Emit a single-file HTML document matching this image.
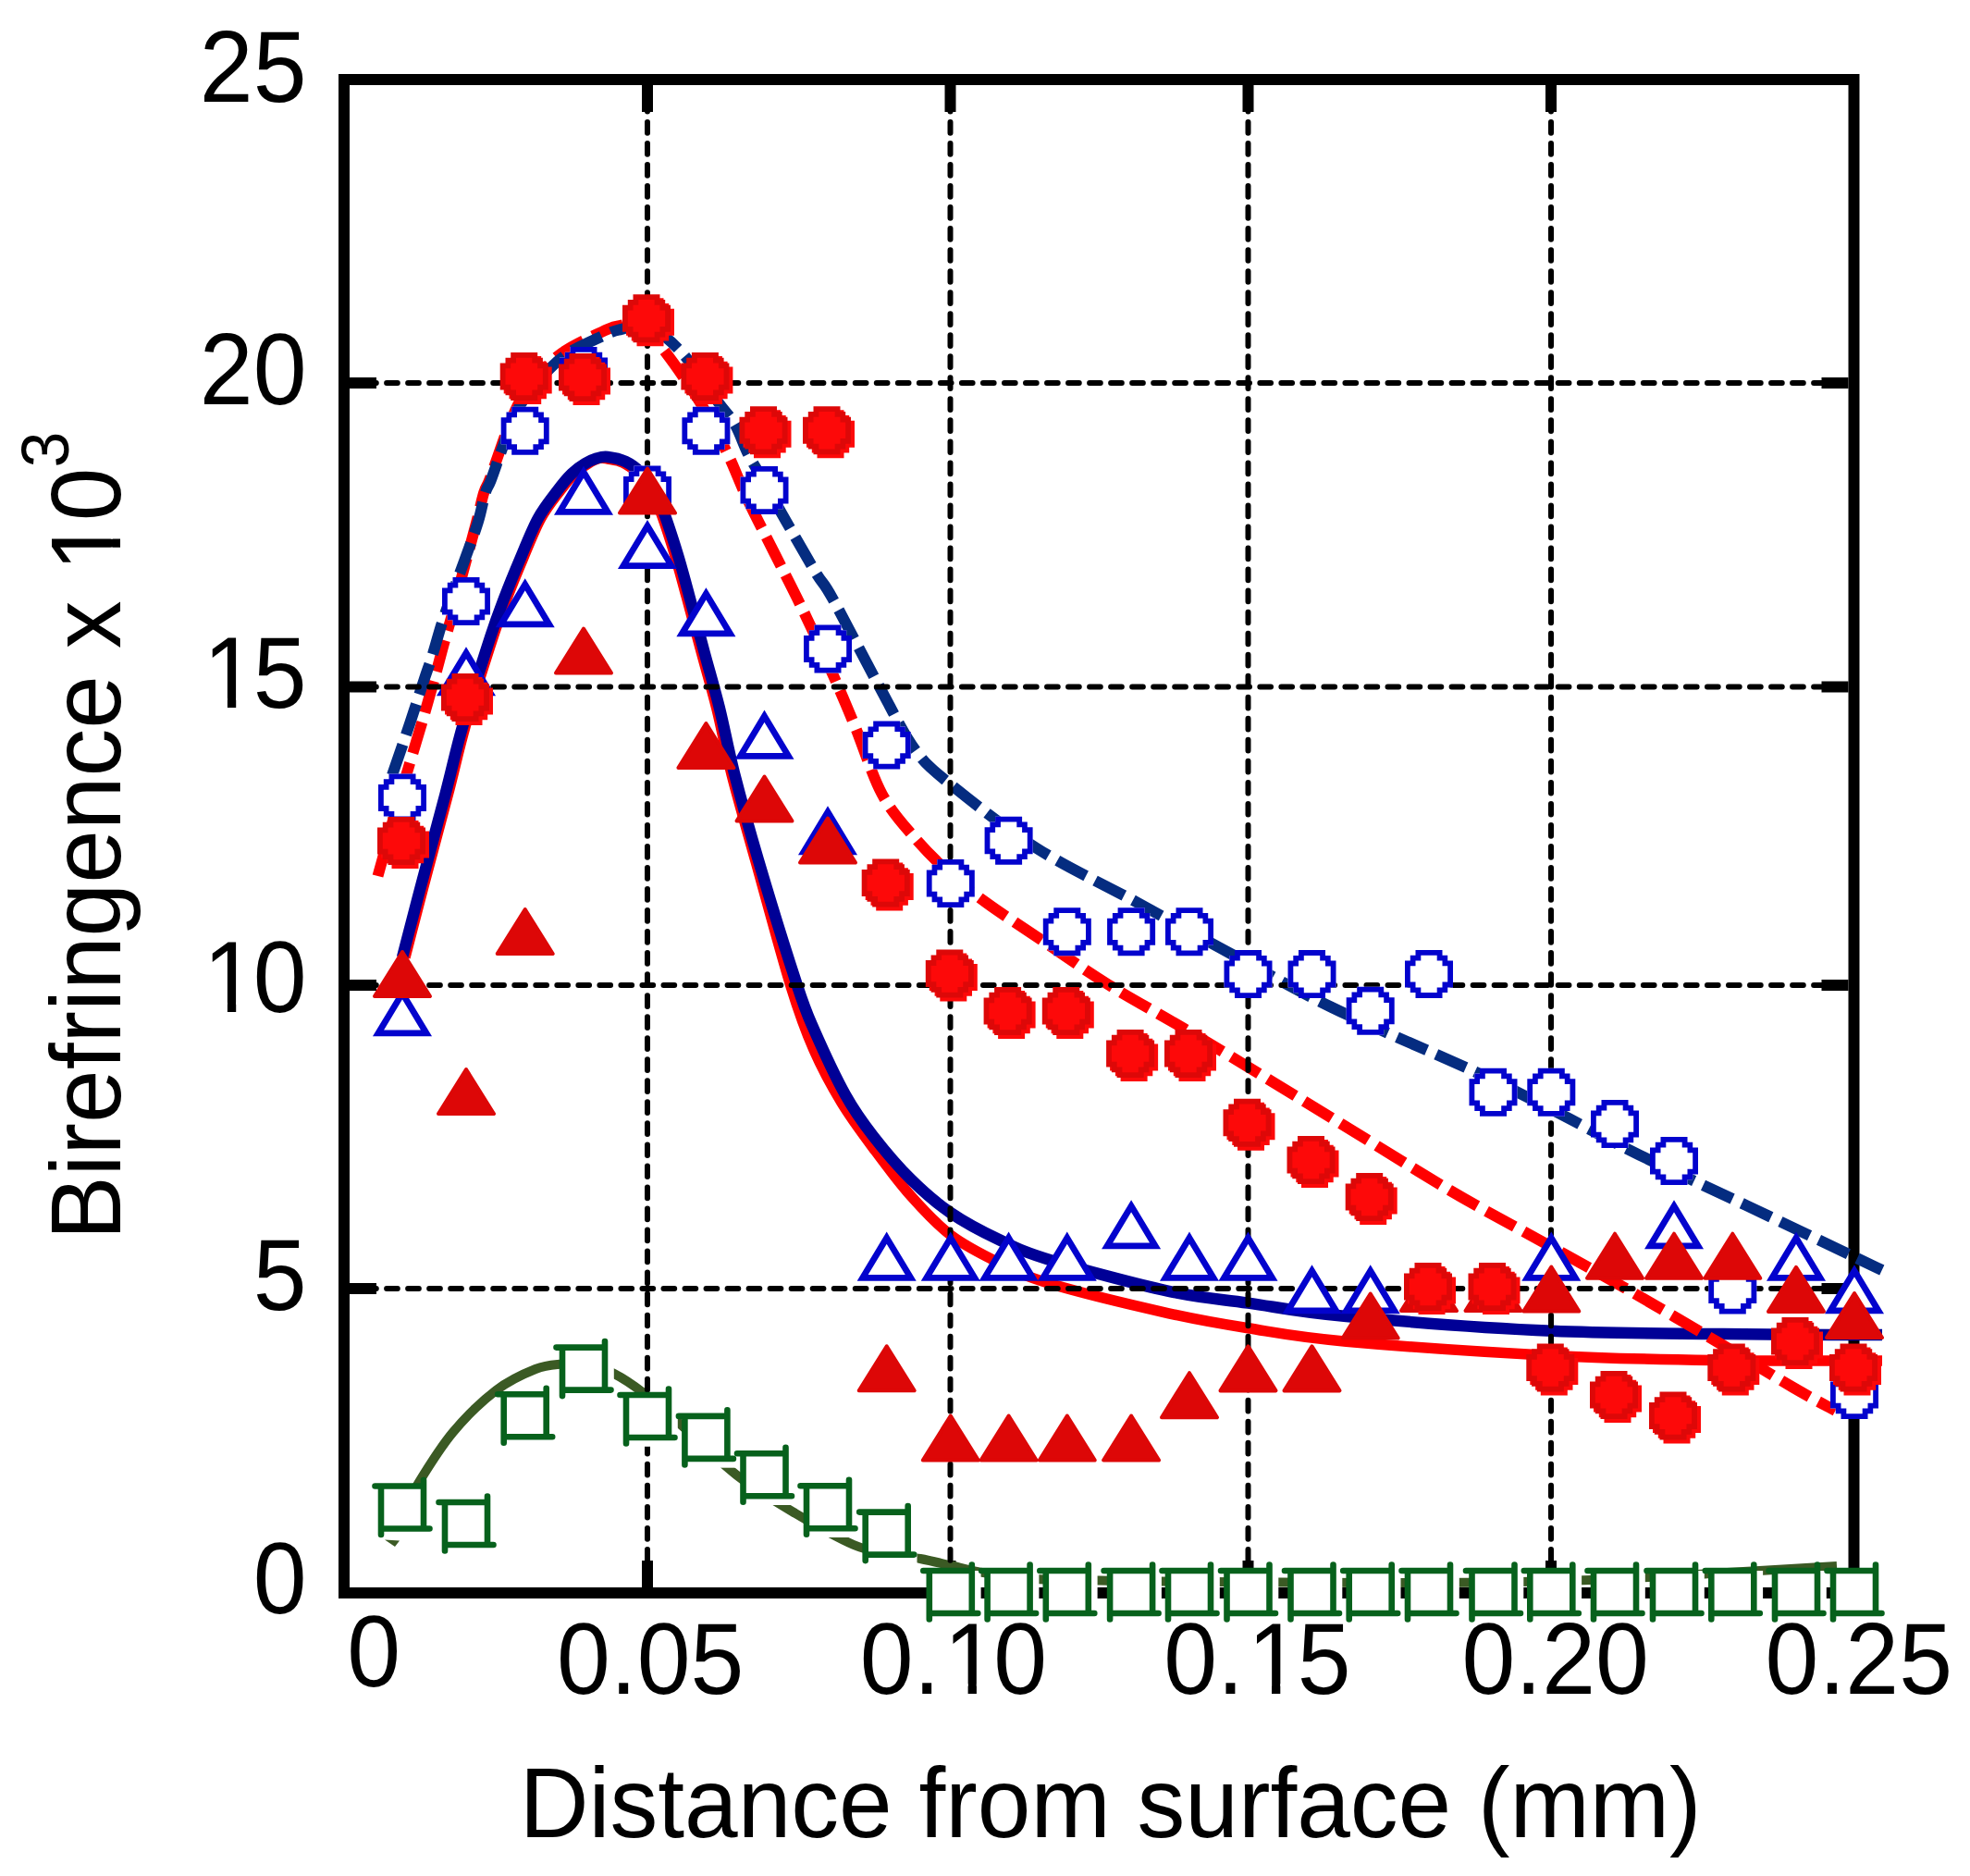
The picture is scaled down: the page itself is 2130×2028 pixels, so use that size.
<!DOCTYPE html>
<html lang="en"><head><meta charset="utf-8"><title>Birefringence vs distance from surface</title>
<style>html,body{margin:0;padding:0;background:#fff}svg{display:block}text{font-family:"Liberation Sans",sans-serif;fill:#000}</style></head><body>
<svg width="2130" height="2028" viewBox="0 0 2130 2028">
<rect width="2130" height="2028" fill="#fff"/>
<defs>
<g id="rc"><path d="M-12.5 -24.0L16.5 -24.0L16.5 -18.2L22.2 -18.2L22.2 -12.5L28.0 -12.5L28.0 16.5L22.2 16.5L22.2 22.2L16.5 22.2L16.5 28.0L-12.5 28.0L-12.5 22.2L-18.2 22.2L-18.2 16.5L-24.0 16.5L-24.0 -12.5L-18.2 -12.5L-18.2 -18.2L-12.5 -18.2Z" fill="#fd0909"/><path d="M-16.5 -28.0L12.5 -28.0L12.5 -22.2L18.2 -22.2L18.2 -16.5L24.0 -16.5L24.0 12.5L18.2 12.5L18.2 18.2L12.5 18.2L12.5 24.0L-16.5 24.0L-16.5 18.2L-22.2 18.2L-22.2 12.5L-28.0 12.5L-28.0 -16.5L-22.2 -16.5L-22.2 -22.2L-16.5 -22.2Z" fill="#dd0808"/><path d="M-10.7 -22.2L6.7 -22.2L6.7 -16.5L12.5 -16.5L12.5 -10.7L18.2 -10.7L18.2 6.7L12.5 6.7L12.5 12.5L6.7 12.5L6.7 18.2L-10.7 18.2L-10.7 12.5L-16.5 12.5L-16.5 6.7L-22.2 6.7L-22.2 -10.7L-16.5 -10.7L-16.5 -16.5L-10.7 -16.5Z" fill="#fd0909"/></g>
<path id="bc" d="M-14.5 -26.0L14.5 -26.0L14.5 -20.2L20.2 -20.2L20.2 -14.5L26.0 -14.5L26.0 14.5L20.2 14.5L20.2 20.2L14.5 20.2L14.5 26.0L-14.5 26.0L-14.5 20.2L-20.2 20.2L-20.2 14.5L-26.0 14.5L-26.0 -14.5L-20.2 -14.5L-20.2 -20.2L-14.5 -20.2ZM-8.7 -20.2L8.7 -20.2L8.7 -14.5L14.5 -14.5L14.5 -8.7L20.2 -8.7L20.2 8.7L14.5 8.7L14.5 14.5L8.7 14.5L8.7 20.2L-8.7 20.2L-8.7 14.5L-14.5 14.5L-14.5 8.7L-20.2 8.7L-20.2 -8.7L-14.5 -8.7L-14.5 -14.5L-8.7 -14.5Z" fill="#0303cd" fill-rule="evenodd"/>
<path id="bcw" d="M-14.5 -26.0L14.5 -26.0L14.5 -20.2L20.2 -20.2L20.2 -14.5L26.0 -14.5L26.0 14.5L20.2 14.5L20.2 20.2L14.5 20.2L14.5 26.0L-14.5 26.0L-14.5 20.2L-20.2 20.2L-20.2 14.5L-26.0 14.5L-26.0 -14.5L-20.2 -14.5L-20.2 -20.2L-14.5 -20.2Z" fill="#fff"/>
<path id="bt" d="M0 5.8L26 48.9L-26 48.9Z" fill="#fff" stroke="#0303cd" stroke-width="6.8" stroke-linejoin="miter"/>
<path id="rt" d="M0 2L30 50L-30 50Z" fill="#dd0707" stroke="#dd0707" stroke-width="4" stroke-linejoin="round"/>
<g id="gs"><rect x="-23" y="-23" width="55.8" height="55.8" fill="#fff"/><path d="M-29.5 -23H23M-23 23H29.5M-23 -23V29.5M23 -29.5V23" fill="none" stroke="#07611c" stroke-width="6.6" stroke-linecap="round"/></g>
</defs>
<g fill="none" stroke="#000">
<rect x="372.0" y="86.0" width="1632.5" height="1636.0" stroke-width="12.0"/>
<path d="M700.0 92.0 v29.0 M700.0 1716.0 v-29.0M1027.5 92.0 v29.0 M1027.5 1716.0 v-29.0M1349.5 92.0 v29.0 M1349.5 1716.0 v-29.0M1677.0 92.0 v29.0 M1677.0 1716.0 v-29.0M378.0 414.0 h29.0 M1998.5 414.0 h-29.0M378.0 742.4 h29.0 M1998.5 742.4 h-29.0M378.0 1065.1 h29.0 M1998.5 1065.1 h-29.0M378.0 1393.0 h29.0 M1998.5 1393.0 h-29.0" stroke-width="12"/>
</g>
<g fill="none">
<path d="M436.0 1636.0C438.8 1630.4 443.8 1617.3 452.8 1602.6C461.8 1587.9 476.1 1564.6 490.0 1548.0C503.9 1531.4 521.6 1514.3 536.4 1503.0C551.2 1491.7 567.2 1484.7 579.0 1480.0C590.8 1475.3 598.1 1475.5 607.4 1474.6C616.7 1473.7 625.6 1472.8 635.0 1474.5C644.4 1476.2 653.8 1479.8 664.0 1485.0C674.2 1490.2 684.0 1496.8 696.0 1506.0C708.0 1515.2 719.2 1525.2 736.0 1540.0C752.8 1554.8 776.3 1579.0 797.0 1595.0C817.7 1611.0 839.0 1623.5 860.0 1636.0C881.0 1648.5 906.3 1662.8 923.0 1670.0C939.7 1677.2 948.0 1676.5 960.0 1679.0C972.0 1681.5 983.8 1682.8 995.0 1685.0C1006.2 1687.2 1016.2 1689.6 1027.0 1692.0C1037.8 1694.4 1044.5 1697.1 1060.0 1699.6C1075.5 1702.1 1098.7 1705.5 1120.0 1707.0C1141.3 1708.5 1165.5 1708.2 1188.0 1708.6C1210.5 1709.0 1222.3 1709.2 1255.0 1709.5C1287.7 1709.8 1329.0 1710.4 1384.0 1710.6C1439.0 1710.8 1529.0 1711.2 1585.0 1710.8C1641.0 1710.4 1675.8 1709.6 1720.0 1708.0C1764.2 1706.4 1805.7 1703.5 1850.0 1701.0C1894.3 1698.5 1963.3 1694.3 1986.0 1693.0" stroke="#3b5a24" stroke-width="10"/>
<path d="M416 1664.5L432 1665.5L427 1672Z" fill="#3b5a24"/>
<path d="M438.0 1035.0C441.2 1022.5 449.8 989.4 457.5 960.0C465.2 930.6 476.8 887.9 484.5 858.6C492.2 829.3 495.4 812.4 503.5 784.0C511.6 755.6 525.9 711.1 533.4 688.0C540.9 664.9 543.3 659.5 548.7 645.3C554.1 631.1 560.0 616.9 566.0 602.7C572.0 588.5 578.3 572.1 585.0 560.0C591.7 547.9 600.0 538.0 606.0 530.0C612.0 522.0 616.3 516.8 621.3 512.0C626.2 507.2 631.2 503.9 635.7 501.2C640.2 498.4 644.4 496.4 648.0 495.5C651.6 494.6 652.9 495.2 657.1 496.0C661.3 496.8 667.9 497.3 673.4 500.0C678.9 502.7 685.2 507.3 690.0 512.0C694.8 516.7 698.2 521.9 702.0 528.0C705.8 534.1 707.9 536.9 712.5 548.8C717.1 560.7 724.6 583.6 729.5 599.5C734.4 615.4 737.2 626.9 742.0 644.3C746.8 661.7 752.5 683.6 758.0 704.0C763.5 724.4 769.5 744.5 775.0 766.7C780.5 788.9 784.0 809.6 791.0 837.0C798.0 864.4 806.3 892.8 817.0 931.0C827.7 969.2 844.5 1032.0 855.0 1066.0C865.5 1100.0 870.8 1114.0 880.0 1135.0C889.2 1156.0 899.3 1174.4 910.0 1192.0C920.7 1209.6 931.5 1223.9 944.0 1240.7C956.5 1257.5 971.0 1277.3 985.0 1293.0C999.0 1308.7 1011.9 1323.0 1027.7 1335.0C1043.5 1347.0 1062.0 1356.2 1080.0 1365.0C1098.0 1373.8 1105.2 1378.7 1135.8 1387.8C1166.4 1396.9 1228.1 1411.8 1263.7 1419.8C1299.3 1427.8 1317.5 1430.7 1349.5 1435.8C1381.5 1440.9 1400.8 1445.3 1455.6 1450.2C1510.3 1455.1 1611.8 1462.0 1678.0 1465.4C1744.2 1468.8 1793.5 1469.6 1853.0 1470.5C1912.5 1471.4 2004.7 1470.9 2035.0 1471.0" stroke="#ff0000" stroke-width="11.5"/>
<path d="M435.0 1035.0C438.2 1022.5 446.8 989.4 454.5 960.0C462.2 930.6 473.8 887.9 481.5 858.6C489.2 829.3 492.4 812.4 500.5 784.0C508.6 755.6 522.9 711.1 530.4 688.0C537.9 664.9 540.3 659.5 545.7 645.3C551.1 631.1 557.0 616.9 563.0 602.7C569.0 588.5 575.3 572.1 582.0 560.0C588.7 547.9 597.0 538.0 603.0 530.0C609.0 522.0 613.3 516.8 618.3 512.0C623.2 507.2 628.2 503.9 632.7 501.2C637.2 498.4 640.9 496.7 645.0 495.5C649.1 494.3 651.9 493.4 657.1 494.0C662.3 494.6 670.4 496.2 676.4 499.0C682.4 501.8 688.2 506.3 693.0 511.0C697.8 515.7 701.2 520.9 705.0 527.0C708.8 533.1 710.9 535.9 715.5 547.8C720.1 559.7 727.6 582.6 732.5 598.5C737.4 614.4 740.2 625.9 745.0 643.3C749.8 660.7 755.5 682.6 761.0 703.0C766.5 723.4 772.5 743.5 778.0 765.7C783.5 787.9 787.0 808.6 794.0 836.0C801.0 863.4 808.8 892.0 820.0 930.0C831.2 968.0 851.5 1033.5 861.5 1064.0C871.5 1094.5 871.3 1093.0 880.0 1112.8C888.7 1132.6 903.0 1163.8 913.7 1183.0C924.4 1202.2 932.1 1212.7 944.0 1228.0C955.9 1243.3 971.0 1261.2 985.0 1275.0C999.0 1288.8 1011.9 1300.2 1027.7 1311.0C1043.5 1321.8 1062.0 1331.5 1080.0 1340.0C1098.0 1348.5 1105.2 1352.9 1135.8 1362.2C1166.4 1371.5 1228.1 1388.1 1263.7 1395.8C1299.3 1403.5 1317.5 1404.1 1349.5 1408.6C1381.5 1413.1 1400.8 1418.0 1455.6 1423.0C1510.3 1428.0 1601.9 1435.5 1678.0 1438.7C1754.1 1442.0 1852.5 1441.8 1912.0 1442.5C1971.5 1443.2 2014.5 1442.9 2035.0 1443.0" stroke="#000096" stroke-width="12.5"/>
<path d="M408.5 947.0C409.3 944.0 410.9 938.5 413.5 929.0C416.1 919.5 419.1 907.2 424.0 890.0C428.9 872.8 437.5 843.7 442.9 825.6C448.3 807.5 451.3 797.9 456.2 781.2C461.1 764.5 468.0 740.0 472.0 725.5C476.0 711.0 477.1 705.8 480.3 694.4C483.5 683.0 487.7 669.3 491.0 657.0C494.3 644.7 497.8 629.3 500.0 620.8C502.2 612.3 501.4 615.5 504.0 606.0C506.6 596.5 512.1 576.2 515.3 564.0C518.5 551.8 520.9 539.9 523.2 532.5C525.5 525.1 526.1 527.1 529.0 519.5C531.9 511.9 536.8 497.4 540.5 487.0C544.2 476.6 547.2 467.0 551.5 457.0C555.8 447.0 559.0 437.5 566.0 427.0C573.0 416.5 586.1 401.9 593.5 394.0C600.9 386.1 605.2 383.5 610.5 379.7C615.8 375.9 617.7 375.0 625.5 371.0C633.3 367.0 649.9 358.9 657.5 355.7C665.1 352.5 666.2 352.9 671.0 352.0C675.8 351.1 680.7 349.2 686.0 350.5C691.3 351.8 697.5 355.1 703.0 360.0C708.5 364.9 713.5 372.7 719.1 380.1C724.7 387.5 729.8 394.3 736.6 404.3C743.4 414.3 751.6 425.6 760.0 440.0C768.4 454.4 778.9 474.5 786.9 491.0C794.9 507.5 799.3 520.9 807.8 538.8C816.2 556.7 827.6 578.6 837.6 598.5C847.6 618.4 857.1 636.6 867.5 658.2C877.9 679.8 890.6 707.0 900.0 728.0C909.4 749.0 914.9 762.1 923.9 783.9C932.9 805.6 942.8 838.1 953.7 858.5C964.7 878.9 977.2 891.9 989.6 906.3C1002.0 920.7 1014.9 933.3 1027.8 945.0C1040.7 956.7 1050.7 964.4 1067.2 976.4C1083.7 988.4 1105.0 1002.0 1126.9 1016.7C1148.8 1031.4 1170.7 1047.3 1198.5 1064.5C1226.3 1081.7 1253.8 1096.0 1294.0 1120.0C1334.2 1144.0 1394.3 1180.8 1440.0 1208.6C1485.7 1236.4 1528.5 1263.8 1568.0 1287.0C1607.5 1310.2 1645.3 1329.9 1677.3 1347.7C1709.3 1365.5 1730.1 1377.0 1759.8 1394.0C1789.5 1411.0 1825.8 1432.3 1855.7 1450.0C1885.6 1467.7 1917.5 1487.5 1939.0 1500.0C1960.5 1512.5 1976.9 1520.8 1984.5 1525.0" stroke="#ff0000" stroke-width="12" stroke-dasharray="35 11"/>
<path d="M424.0 838.0C427.2 828.5 437.8 798.2 443.5 781.0C449.2 763.8 454.4 747.3 458.5 735.0C462.6 722.7 464.4 718.3 468.0 707.0C471.6 695.7 474.3 683.8 480.0 667.0C485.7 650.2 495.9 623.6 502.0 606.5C508.1 589.4 513.0 576.8 516.8 564.5C520.6 552.2 522.4 540.3 524.7 532.9C527.0 525.5 527.6 527.4 530.5 519.9C533.4 512.4 538.2 497.9 542.0 487.6C545.8 477.3 548.7 467.8 553.0 458.0C557.3 448.2 561.0 439.1 568.0 429.0C575.0 418.9 587.9 405.2 595.3 397.6C602.7 390.0 607.2 387.0 612.5 383.2C617.8 379.4 619.3 378.6 627.2 374.6C635.1 370.7 652.5 362.6 660.0 359.5C667.5 356.4 667.5 357.1 672.2 355.9C676.9 354.7 682.5 352.4 688.0 352.5C693.5 352.6 699.6 354.4 705.0 356.5C710.4 358.6 714.2 360.0 720.2 364.9C726.2 369.8 735.2 378.6 741.3 385.8C747.4 393.0 751.0 399.7 757.0 408.0C763.0 416.3 770.7 426.9 777.0 435.5C783.3 444.1 789.7 450.2 795.0 459.5C800.3 468.8 803.7 480.6 809.0 491.0C814.3 501.4 821.2 511.7 827.0 522.0C832.8 532.3 838.5 543.2 844.0 553.0C849.5 562.8 853.4 569.6 860.0 581.0C866.6 592.4 876.8 610.5 883.5 621.4C890.2 632.3 888.8 626.5 900.0 646.6C911.2 666.7 935.8 714.8 950.7 742.1C965.6 769.5 976.8 793.1 989.6 810.7C1002.5 828.4 1005.9 830.3 1027.8 848.0C1049.7 865.7 1087.5 895.8 1120.9 917.0C1154.3 938.2 1195.6 957.2 1228.4 975.0C1261.2 992.8 1282.6 1005.0 1317.9 1024.0C1353.2 1043.0 1394.1 1066.7 1440.0 1089.0C1485.9 1111.3 1554.0 1139.7 1593.5 1158.0C1633.0 1176.3 1647.2 1183.9 1677.0 1199.0C1706.8 1214.1 1737.5 1231.3 1772.6 1248.6C1807.7 1265.9 1844.0 1282.2 1887.7 1302.9C1931.4 1323.6 2010.3 1361.3 2034.8 1373.0" stroke="#052c80" stroke-width="12" stroke-dasharray="35 11"/>
</g>
<path d="M700.00 108.92 V1689.0M1027.50 108.92 V1689.0M1349.50 108.92 V1689.0M1677.00 108.92 V1689.0M395.07 414.00 H1971.5M395.07 742.40 H1971.5M395.07 1065.10 H1971.5M395.07 1393.00 H1971.5" fill="none" stroke="#000" stroke-width="6" stroke-linecap="round" stroke-dasharray="11.7 11.33"/>
<g>
<use href="#bcw" x="435.0" y="862.4"/><use href="#bc" x="435.0" y="862.4"/>
<use href="#bcw" x="504.0" y="650.0"/><use href="#bc" x="504.0" y="650.0"/>
<use href="#bcw" x="567.7" y="465.7"/><use href="#bc" x="567.7" y="465.7"/>
<use href="#bcw" x="631.0" y="401.0"/><use href="#bc" x="631.0" y="401.0"/>
<use href="#bcw" x="700.0" y="529.6"/><use href="#bc" x="700.0" y="529.6"/>
<use href="#bcw" x="763.4" y="465.7"/><use href="#bc" x="763.4" y="465.7"/>
<use href="#bcw" x="826.5" y="530.0"/><use href="#bc" x="826.5" y="530.0"/>
<use href="#bcw" x="895.0" y="701.5"/><use href="#bc" x="895.0" y="701.5"/>
<use href="#bcw" x="958.7" y="805.6"/><use href="#bc" x="958.7" y="805.6"/>
<use href="#bcw" x="1027.8" y="955.0"/><use href="#bc" x="1027.8" y="955.0"/>
<use href="#bcw" x="1090.6" y="908.7"/><use href="#bc" x="1090.6" y="908.7"/>
<use href="#bcw" x="1153.8" y="1007.2"/><use href="#bc" x="1153.8" y="1007.2"/>
<use href="#bcw" x="1223.1" y="1007.2"/><use href="#bc" x="1223.1" y="1007.2"/>
<use href="#bcw" x="1286.0" y="1007.2"/><use href="#bc" x="1286.0" y="1007.2"/>
<use href="#bcw" x="1349.5" y="1053.1"/><use href="#bc" x="1349.5" y="1053.1"/>
<use href="#bcw" x="1418.5" y="1053.1"/><use href="#bc" x="1418.5" y="1053.1"/>
<use href="#bcw" x="1481.7" y="1092.8"/><use href="#bc" x="1481.7" y="1092.8"/>
<use href="#bcw" x="1545.0" y="1052.9"/><use href="#bc" x="1545.0" y="1052.9"/>
<use href="#bcw" x="1614.5" y="1180.8"/><use href="#bc" x="1614.5" y="1180.8"/>
<use href="#bcw" x="1677.3" y="1180.8"/><use href="#bc" x="1677.3" y="1180.8"/>
<use href="#bcw" x="1746.0" y="1215.0"/><use href="#bc" x="1746.0" y="1215.0"/>
<use href="#bcw" x="1810.0" y="1255.0"/><use href="#bc" x="1810.0" y="1255.0"/>
<use href="#bcw" x="1873.3" y="1394.5"/><use href="#bc" x="1873.3" y="1394.5"/>
<use href="#bcw" x="2005.0" y="1508.0"/><use href="#bc" x="2005.0" y="1508.0"/>
<use href="#bt" x="435.0" y="1068.0"/>
<use href="#bt" x="504.0" y="700.0"/>
<use href="#bt" x="567.7" y="626.0"/>
<use href="#bt" x="631.0" y="504.5"/>
<use href="#bt" x="700.0" y="562.7"/>
<use href="#bt" x="763.4" y="636.0"/>
<use href="#bt" x="826.5" y="768.4"/>
<use href="#bt" x="895.0" y="872.0"/>
<use href="#bt" x="958.7" y="1332.4"/>
<use href="#bt" x="1027.8" y="1332.4"/>
<use href="#bt" x="1090.6" y="1332.4"/>
<use href="#bt" x="1153.8" y="1332.4"/>
<use href="#bt" x="1223.1" y="1298.0"/>
<use href="#bt" x="1286.0" y="1332.4"/>
<use href="#bt" x="1349.5" y="1332.4"/>
<use href="#bt" x="1418.5" y="1368.0"/>
<use href="#bt" x="1481.7" y="1368.0"/>
<use href="#bt" x="1677.3" y="1332.4"/>
<use href="#bt" x="1810.0" y="1298.0"/>
<use href="#bt" x="1942.0" y="1332.4"/>
<use href="#bt" x="2005.0" y="1368.0"/>
<use href="#rt" x="435.0" y="1027.0"/>
<use href="#rt" x="504.0" y="1154.0"/>
<use href="#rt" x="567.7" y="981.0"/>
<use href="#rt" x="631.0" y="677.6"/>
<use href="#rt" x="700.0" y="504.5"/>
<use href="#rt" x="763.4" y="780.0"/>
<use href="#rt" x="826.5" y="837.5"/>
<use href="#rt" x="895.0" y="882.6"/>
<use href="#rt" x="958.7" y="1453.3"/>
<use href="#rt" x="1027.8" y="1528.5"/>
<use href="#rt" x="1090.6" y="1528.5"/>
<use href="#rt" x="1153.8" y="1528.5"/>
<use href="#rt" x="1223.1" y="1528.5"/>
<use href="#rt" x="1286.0" y="1482.2"/>
<use href="#rt" x="1349.5" y="1453.4"/>
<use href="#rt" x="1418.5" y="1453.4"/>
<use href="#rt" x="1481.7" y="1396.5"/>
<use href="#rt" x="1545.0" y="1367.0"/>
<use href="#rt" x="1614.5" y="1367.0"/>
<use href="#rt" x="1677.3" y="1367.5"/>
<use href="#rt" x="1746.0" y="1331.7"/>
<use href="#rt" x="1810.0" y="1331.7"/>
<use href="#rt" x="1873.3" y="1331.7"/>
<use href="#rt" x="1942.0" y="1367.9"/>
<use href="#rt" x="2005.0" y="1396.0"/>
<use href="#rc" x="436.0" y="911.0"/>
<use href="#rc" x="505.0" y="756.0"/>
<use href="#rc" x="568.7" y="409.0"/>
<use href="#rc" x="632.0" y="410.0"/>
<use href="#rc" x="701.0" y="346.3"/>
<use href="#rc" x="764.4" y="409.0"/>
<use href="#rc" x="827.5" y="467.2"/>
<use href="#rc" x="896.0" y="467.2"/>
<use href="#rc" x="959.7" y="956.5"/>
<use href="#rc" x="1028.8" y="1054.6"/>
<use href="#rc" x="1091.6" y="1095.0"/>
<use href="#rc" x="1154.8" y="1095.0"/>
<use href="#rc" x="1224.1" y="1141.0"/>
<use href="#rc" x="1287.0" y="1141.0"/>
<use href="#rc" x="1350.5" y="1215.8"/>
<use href="#rc" x="1419.5" y="1256.0"/>
<use href="#rc" x="1482.7" y="1296.0"/>
<use href="#rc" x="1546.0" y="1393.0"/>
<use href="#rc" x="1615.5" y="1393.0"/>
<use href="#rc" x="1678.3" y="1480.5"/>
<use href="#rc" x="1747.0" y="1510.0"/>
<use href="#rc" x="1811.0" y="1532.5"/>
<use href="#rc" x="1874.3" y="1480.5"/>
<use href="#rc" x="1943.0" y="1452.0"/>
<use href="#rc" x="2006.0" y="1480.5"/>
<use href="#gs" x="435.0" y="1629.5"/>
<use href="#gs" x="504.0" y="1647.0"/>
<use href="#gs" x="567.7" y="1530.2"/>
<use href="#gs" x="631.0" y="1479.6"/>
<use href="#gs" x="700.0" y="1531.0"/>
<use href="#gs" x="763.4" y="1553.9"/>
<use href="#gs" x="826.5" y="1594.2"/>
<use href="#gs" x="895.0" y="1629.2"/>
<use href="#gs" x="958.7" y="1657.6"/>
<use href="#gs" x="1027.8" y="1721.0"/>
<use href="#gs" x="1090.6" y="1721.0"/>
<use href="#gs" x="1153.8" y="1721.0"/>
<use href="#gs" x="1223.1" y="1721.0"/>
<use href="#gs" x="1286.0" y="1721.0"/>
<use href="#gs" x="1349.5" y="1721.0"/>
<use href="#gs" x="1418.5" y="1721.0"/>
<use href="#gs" x="1481.7" y="1721.0"/>
<use href="#gs" x="1545.0" y="1721.0"/>
<use href="#gs" x="1614.5" y="1721.0"/>
<use href="#gs" x="1677.3" y="1721.0"/>
<use href="#gs" x="1746.0" y="1721.0"/>
<use href="#gs" x="1810.0" y="1721.0"/>
<use href="#gs" x="1873.3" y="1721.0"/>
<use href="#gs" x="1942.0" y="1721.0"/>
<use href="#gs" x="2005.0" y="1721.0"/>
</g>
<g>
<text transform="translate(215.8 109.5) scale(1 1.045)" font-size="104.0">25</text>
<text transform="translate(215.8 437.0) scale(1 1.045)" font-size="104.0">20</text>
<g transform="translate(215.8 765.0) scale(1 1.045)"><text font-size="104.0"><tspan dx="4.0">1</tspan><tspan dx="-4.0">5</tspan></text><path d="M10.2 -9.9H30.1V2H10.2ZM39.4 -9.9H58.1V2H39.4Z" fill="#fff"/></g>
<g transform="translate(215.8 1094.0) scale(1 1.045)"><text font-size="104.0"><tspan dx="4.0">1</tspan><tspan dx="-4.0">0</tspan></text><path d="M10.2 -9.9H30.1V2H10.2ZM39.4 -9.9H58.1V2H39.4Z" fill="#fff"/></g>
<text transform="translate(273.7 1416.0) scale(1 1.045)" font-size="104.0">5</text>
<text transform="translate(273.7 1744.0) scale(1 1.045)" font-size="104.0">0</text>
<text transform="translate(375.3 1823.0) scale(1 1.045)" font-size="104.0">0</text>
<text transform="translate(602.0 1830.5) scale(1 1.045)" font-size="104.0">0.05</text>
<g transform="translate(929.8 1830.5) scale(1 1.045)"><text font-size="104.0">0.<tspan dx="4.0">1</tspan><tspan dx="-4.0">0</tspan></text><path d="M97.0 -9.9H116.8V2H97.0ZM126.1 -9.9H144.8V2H126.1Z" fill="#fff"/></g>
<g transform="translate(1258.2 1830.5) scale(1 1.045)"><text font-size="104.0">0.<tspan dx="4.0">1</tspan><tspan dx="-4.0">5</tspan></text><path d="M97.0 -9.9H116.8V2H97.0ZM126.1 -9.9H144.8V2H126.1Z" fill="#fff"/></g>
<text transform="translate(1580.5 1830.5) scale(1 1.045)" font-size="104.0">0.20</text>
<text transform="translate(1908.6 1830.5) scale(1 1.045)" font-size="104.0">0.25</text>
<text transform="translate(561.7 1986.0) scale(1 1.030)" font-size="103.6">Distance from surface (mm)</text>
<g transform="translate(130 1340.5) rotate(-90) scale(1 1.03)"><text font-size="103.6">Birefringence x <tspan dx="3.0">1</tspan><tspan dx="-3.0">0<tspan dy="-54" font-size="70">3</tspan></tspan></text><path d="M728.9 -9.9H748.7V2H728.9ZM757.9 -9.9H776.6V2H757.9Z" fill="#fff"/></g>
</g>
</svg></body></html>
